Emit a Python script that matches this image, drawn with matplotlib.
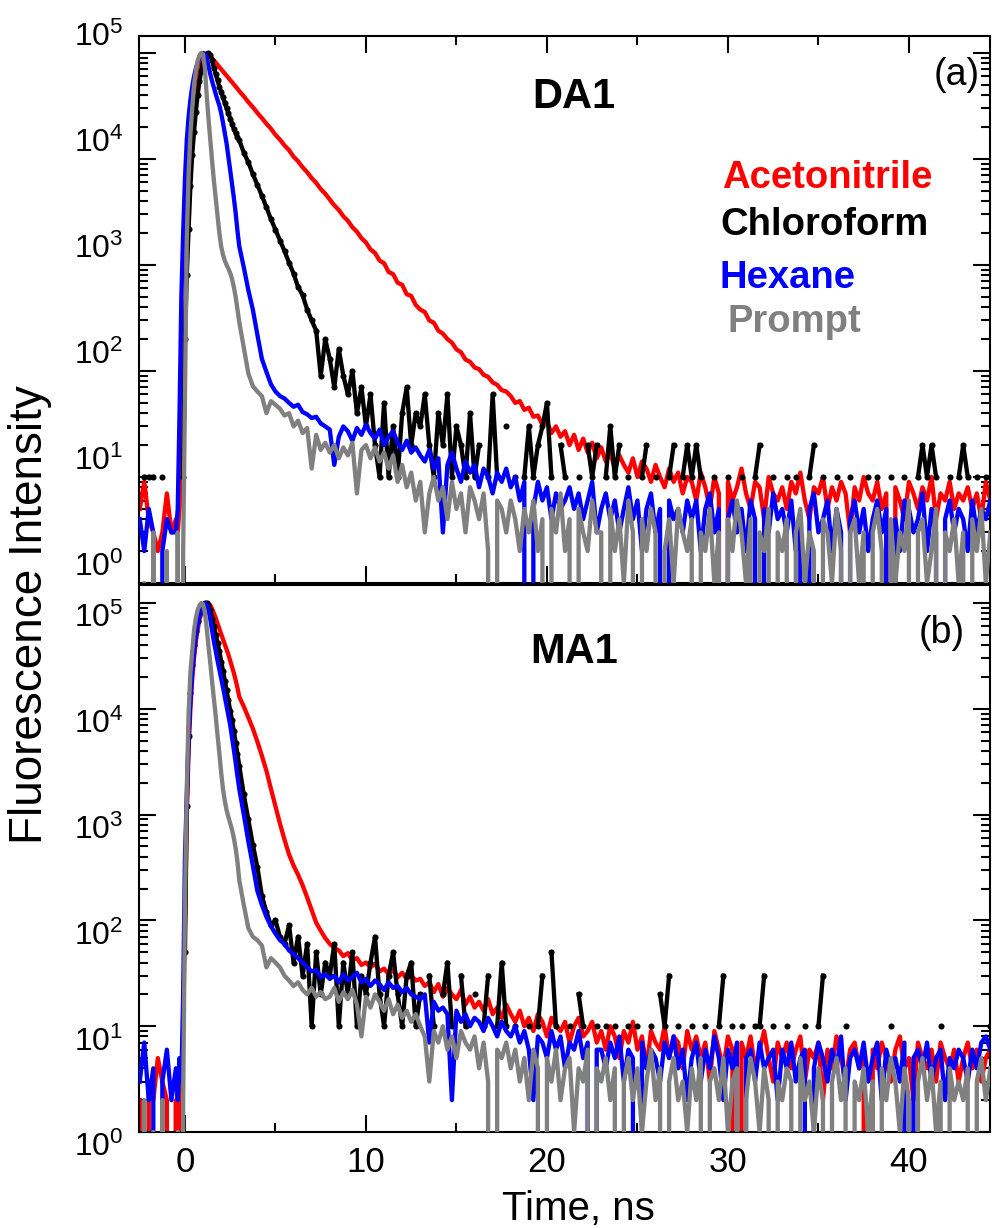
import numpy as np
import matplotlib
matplotlib.use('Agg')
import matplotlib.pyplot as plt
from matplotlib.ticker import (LogLocator, FuncFormatter, NullFormatter, MultipleLocator,
                               FixedLocator)

plt.rcParams['font.family'] = ['Liberation Sans', 'DejaVu Sans']
plt.rcParams['mathtext.fontset'] = 'custom'
plt.rcParams['mathtext.rm'] = 'Liberation Sans'

N = np.nan  # empty channel (not drawn on log axis)

# time channels (ns): coarse pre-rise, fine around the peak, coarse tail
time_ns = np.concatenate([np.linspace(-2.5, -0.75, 8),
                          np.linspace(-0.5, 2.9, 35),
                          np.linspace(3.0, 44.5, 167)])

series_names = ['Acetonitrile', 'Chloroform', 'Hexane', 'Prompt']
series_colors = ['#ff0000', '#000000', '#0000ff', '#808080']
decades = [1, 10, 100, 1000, 10000, 100000]

# ---------------- DA1 ----------------
da1_acetonitrile = [
    5, 9, 4, 3, 2, 3, 7, 3,
    4, 3, 5, 8, 40, 300, 1500, 4500, 10000, 18000, 28000, 40000, 53000, 66000, 78000,
    88000, 95000, 99500, 99000, 93500, 89000, 84800, 80900, 77200, 73600, 70200, 67000,
    63900, 61000, 58200, 55500, 52900, 50500, 48200, 46000,
    43600, 39000, 34400, 30800, 27200, 24300, 21500, 19300, 16900, 15200, 13400, 12100, 10500, 9500, 8350, 7500, 6600, 5950, 5200, 4700,
    4150, 3650, 3300, 2880, 2610, 2270, 2060, 1790, 1630, 1400, 1300, 1100, 1040, 860, 820, 680, 650, 530, 510, 420,
    380, 360, 300, 285, 240, 225, 200, 185, 160, 150, 128, 122, 108, 104, 92, 88, 78, 74, 66, 64,
    58, 50, 52, 43, 45, 37, 38, 31, 33, 26, 30, 24, 27, 20, 25, 18, 23, 17, 21, 15,
    19, 14, 17, 12, 16, 13, 11, 15, 10, 14, 12, 9, 13, 10, 8, 12, 9, 11, 7, 10,
    9, 6, 11, 8, 5, 10, 7, 0, 9, 6, 8, 12, 7, 5, 9, 8, 4, 10, 7, 6,
    8, 5, 9, 7, 11, 6, 4, 8, 7, 10, 5, 8, 6, 9, 7, 3, 8, 6, 10, 7,
    6, 9, 5, 7, 0, 8, 6, 4, 9, 7, 5, 8, 6, 10, 4, 7, 6, 9, 5, 7,
    6, 8, 5, 7, 4, 9, 6]

da1_chloroform = [
    N, 10, 10, 10, N, 10, N, N,
    N, N, N, N, 10, 200, 800, 2200, 5500, 11000, 18000, 28000, 40000, 54000, 68000,
    80000, 91000, 98000, 100000, 96000, 85000, 72000, 63000, 55000, 48000, 43000, 38000,
    34000, 30000, 27000, 24000, 21500, 19300, 17500, 16000,
    15000, 11500, 9300, 7200, 5700, 4500, 3500, 2700, 2150, 1700, 1350, 1050, 830, 620, 520, 380, 300, 240, 90, 200,
    130, 70, 160, 90, 60, 100, 40, 70, 30, 60, 20, 10, 50, 10, 30, 10, 40, 70, 20, 40,
    30, 60, 20, 10, 40, 20, 60, 10, 30, 20, 10, 40, 10, 20, N, 10, 60, 10, N, 30,
    N, 10, N, 10, 30, 10, 20, 30, 50, 10, N, 20, 10, N, N, 10, N, 20, 10, 20,
    N, 10, 30, 10, 20, N, 10, N, N, 10, 20, N, 10, N, N, 10, 20, N, 10, 20,
    10, 20, 10, N, N, 10, N, N, 10, N, N, 10, N, N, 10, 20, N, N, 10, N,
    N, 10, N, 10, N, N, 10, 20, N, 10, N, N, 10, N, N, 10, N, N, N, 10,
    N, 10, N, N, 10, N, N, 10, N, N, 10, 20, 10, 20, 10, N, N, 10, N, 10,
    20, 10, N, 10, N, 10, N]

da1_hexane = [
    4, 2, 5, 3, 0, 2, 4, 3,
    3, 5, 40, 500, 2000, 6500, 15000, 25000, 36000, 48000, 60000, 71000, 81000, 90000, 96000,
    100000, 98000, 90000, 75000, 63000, 54000, 47000, 41000, 36000, 32000, 27000, 22000,
    17500, 14000, 10500, 7800, 5800, 4300, 3100, 2100,
    1500, 950, 580, 380, 220, 130, 98, 75, 64, 58, 55, 50, 46, 48, 41, 39, 36, 37, 32, 30,
    28, 13, 24, 30, 27, 22, 29, 25, 31, 26, 23, 28, 20, 24, 27, 21, 18, 22, 17, 19,
    16, 14, 18, 12, 15, 3, 13, 17, 12, 9, 14, 11, 13, 8, 12, 10, 7, 11, 9, 12,
    8, 10, 6, 9, 0, 5, 9, 6, 8, 4, 7, 5, 6, 8, 5, 7, 4, 6, 9, 3,
    5, 7, 4, 6, 3, 5, 8, 4, 6, 2, 5, 7, 3, 5, 0, 6, 4, 5, 3, 6,
    4, 6, 2, 5, 7, 3, 5, 0, 4, 6, 3, 5, 2, 6, 4, 0, 5, 3, 7, 4,
    5, 3, 6, 2, 4, 0, 5, 7, 3, 4, 6, 2, 5, 3, 0, 4, 6, 3, 5, 2,
    4, 6, 3, 5, 0, 4, 2, 6, 5, 3, 4, 7, 2, 5, 3, 0, 4, 6, 3, 5,
    4, 2, 6, 3, 5, 4, 6]

da1_prompt = [
    0, 1, 0, 3, 0, 0, 2, 0,
    0, 3, 0, 0, 2, 60, 1700, 7000, 17000, 30000, 50000, 68000, 84000, 95000, 100000,
    97000, 72000, 40000, 24000, 15000, 9500, 6200, 4200, 2900, 2000, 1500, 1250,
    1100, 1000, 920, 840, 740, 620, 500, 380,
    290, 165, 95, 72, 64, 58, 40, 52, 48, 44, 38, 40, 30, 34, 26, 29, 12, 25, 18, 21,
    17, 20, 15, 19, 16, 21, 7, 18, 20, 15, 19, 14, 17, 12, 16, 9, 13, 8, 11, 6,
    9, 3, 7, 10, 6, 8, 4, 9, 5, 7, 3, 8, 6, 4, 7, 2, 0, 6, 5, 3,
    6, 4, 2, 5, 3, 6, 2, 4, 0, 5, 3, 7, 2, 4, 0, 5, 3, 2, 6, 3,
    3, 0, 5, 2, 4, 1, 6, 3, 0, 4, 2, 5, 3, 0, 2, 4, 1, 5, 3, 2,
    4, 0, 3, 2, 5, 1, 3, 0, 4, 2, 6, 3, 1, 4, 0, 3, 2, 5, 0, 3,
    2, 4, 0, 3, 5, 1, 3, 2, 0, 4, 3, 1, 5, 2, 0, 3, 4, 1, 3, 0,
    3, 5, 2, 0, 4, 1, 3, 2, 6, 0, 3, 4, 1, 2, 5, 0, 3, 2, 4, 1,
    3, 0, 4, 2, 5, 1, 3]

# ---------------- MA1 ----------------
ma1_acetonitrile = [
    2, 0, 3, 2, 5, 3, 2, 0,
    2, 0, 3, 2, 10, 100, 1000, 4000, 10000, 19000, 30000, 43000, 56000, 69000, 80000,
    89000, 96000, 99500, 99500, 95000, 88000, 80000, 72000, 64000, 57000, 51000, 45500,
    41000, 36500, 32500, 28500, 25000, 21800, 18700, 15800,
    13000, 10500, 8300, 6500, 4900, 3600, 2600, 1750, 1200, 820, 580, 420, 330, 270, 215, 165, 125, 95, 80, 68,
    60, 55, 52, 46, 49, 42, 44, 38, 40, 36, 39, 33, 35, 31, 34, 29, 32, 28, 30, 27,
    28, 24, 26, 21, 25, 19, 23, 20, 18, 22, 16, 19, 15, 17, 14, 18, 13, 15, 12, 16,
    13, 11, 14, 10, 12, 9, 13, 11, 8, 12, 10, 9, 11, 7, 10, 12, 8, 9, 11, 7,
    9, 6, 10, 8, 5, 9, 7, 11, 6, 8, 4, 9, 7, 6, 10, 5, 8, 7, 4, 9,
    6, 8, 5, 7, 3, 9, 6, 4, 8, 6, 0, 7, 5, 8, 4, 6, 9, 5, 3, 7,
    5, 7, 4, 6, 8, 3, 6, 5, 7, 2, 6, 4, 8, 5, 3, 6, 7, 4, 5, 0,
    6, 4, 7, 5, 3, 6, 8, 4, 5, 2, 7, 5, 4, 6, 3, 7, 5, 4, 6, 3,
    5, 7, 4, 6, 3, 5, 6]

ma1_chloroform = [
    N, N, N, N, N, N, N, N,
    N, N, N, N, N, 50, 1200, 5500, 14000, 26000, 40000, 54000, 67000, 79000, 89000,
    96000, 99500, 100000, 96000, 85000, 71000, 60000, 50000, 42000, 35000, 28000, 23000,
    18500, 15000, 12000, 9600, 7800, 6200, 4800, 3700,
    2900, 1550, 900, 520, 320, 170, 120, 90, 100, 70, 60, 90, 40, 70, 30, 60, 10, 50, 20, 40,
    30, 60, 10, 40, 20, 50, 10, 30, 20, 40, 70, 20, 10, 30, 50, 20, 10, 30, 40, 10,
    20, N, 30, 10, N, 20, 40, 10, N, 30, 10, N, 20, N, 10, 30, N, 10, 40, 10,
    N, 10, N, N, 10, N, 10, 30, N, 50, 10, N, N, 10, N, 20, 10, N, N, 10,
    N, 10, N, 10, N, N, 10, N, 10, N, N, 10, N, 20, 10, 30, N, 10, N, N,
    10, N, N, 10, N, N, 10, 30, N, 10, N, 10, N, N, 10, 10, 30, N, 10, N,
    N, 10, N, N, N, 10, N, N, 10, 30, N, N, N, N, 10, N, N, N, N, N,
    N, N, N, N, 10, N, N, N, N, N, N, N, N, N, N, 10, N, N, N, N,
    N, N, N, N, N, N, 10]

ma1_hexane = [
    3, 7, 2, 4, 0, 3, 6, 2,
    4, 2, 5, 3, 20, 400, 1500, 5500, 12000, 22000, 34000, 48000, 62000, 75000, 86000,
    94000, 99500, 97000, 86000, 70000, 55000, 43000, 35000, 28500, 23500, 19500, 16000,
    13000, 10500, 8600, 7000, 5400, 4100, 3100, 2300,
    1750, 1000, 560, 330, 190, 140, 108, 88, 75, 65, 60, 52, 48, 44, 40, 36, 33, 34, 29, 31,
    28, 30, 26, 31, 27, 29, 32, 26, 28, 24, 27, 25, 22, 26, 23, 24, 21, 23, 20, 19,
    18, 20, 7, 17, 14, 15, 13, 2, 14, 11, 13, 10, 12, 11, 9, 12, 10, 8, 11, 9,
    8, 10, 7, 9, 6, 2, 8, 7, 5, 9, 6, 8, 4, 7, 6, 9, 5, 7, 0, 6,
    6, 4, 7, 5, 8, 3, 6, 5, 0, 7, 4, 6, 5, 3, 7, 5, 8, 4, 6, 2,
    5, 7, 3, 6, 4, 8, 5, 2, 6, 4, 7, 0, 5, 6, 3, 7, 4, 5, 6, 2,
    6, 4, 7, 3, 5, 6, 0, 4, 7, 5, 3, 6, 4, 8, 2, 5, 6, 4, 7, 3,
    5, 7, 2, 6, 4, 5, 3, 7, 0, 5, 6, 4, 7, 3, 5, 6, 2, 5, 4, 6,
    5, 3, 6, 4, 7, 8, 6]

ma1_prompt = [
    0, 2, 0, 1, 0, 2, 0, 0,
    0, 1, 0, 0, 2, 150, 1700, 9000, 22000, 35000, 55000, 72000, 86000, 95000, 100000,
    97000, 82000, 58000, 39000, 27000, 18000, 12500, 8500, 5600, 3800, 2500, 1750,
    1350, 1100, 950, 830, 720, 600, 480, 360,
    240, 140, 85, 70, 65, 58, 36, 44, 40, 36, 30, 27, 24, 26, 22, 20, 23, 19, 21, 18,
    19, 23, 17, 21, 18, 22, 16, 8, 19, 15, 20, 17, 14, 18, 13, 16, 12, 14, 11, 13,
    10, 8, 3, 9, 7, 10, 6, 8, 5, 9, 7, 6, 8, 4, 7, 3, 0, 6, 5, 7,
    4, 6, 3, 5, 2, 6, 4, 0, 5, 3, 6, 2, 4, 5, 1, 4, 3, 6, 0, 4,
    3, 5, 2, 4, 0, 3, 5, 2, 4, 1, 3, 6, 2, 4, 0, 3, 5, 2, 3, 1,
    4, 2, 5, 0, 3, 4, 2, 5, 1, 3, 4, 0, 2, 5, 3, 1, 4, 2, 0, 3,
    2, 4, 3, 0, 5, 2, 3, 1, 4, 2, 0, 3, 5, 2, 4, 0, 3, 2, 4, 1,
    3, 0, 4, 2, 5, 3, 1, 4, 2, 0, 3, 5, 2, 4, 1, 3, 0, 4, 2, 3,
    2, 4, 0, 3, 5, 2, 4]

panels = [
    ('DA1', '(a)', [da1_acetonitrile, da1_chloroform, da1_hexane, da1_prompt]),
    ('MA1', '(b)', [ma1_acetonitrile, ma1_chloroform, ma1_hexane, ma1_prompt]),
]
for _, _, group in panels:
    for arr in group:
        if len(arr) != len(time_ns):
            raise ValueError('length mismatch %d vs %d' % (len(arr), len(time_ns)))

W, H = 992, 1228
fig = plt.figure(figsize=(W / 100, H / 100), dpi=100)
L, R = 139, 990
ax_top = fig.add_axes([L / W, 1 - 583 / H, (R - L) / W, (583 - 36) / H])
ax_bot = fig.add_axes([L / W, 1 - 1132 / H, (R - L) / W, (1132 - 585) / H])

log_fmt = FuncFormatter(lambda v, p: r'$\mathregular{10^{%d}}$' % int(round(np.log10(v))))

LW = 3.1
for ax, (name, tag, group), ytop in [(ax_top, panels[0], 1.445e5), (ax_bot, panels[1], 1.48e5)]:
    ax.set_yscale('log', nonpositive='clip')
    for k, (arr, col) in enumerate(zip(group, series_colors)):
        vals = np.array(arr, dtype=float)
        if series_names[k] == 'Chloroform':
            ax.plot(time_ns, vals, color=col, lw=LW, marker='o', ms=4.4, mew=0,
                    zorder=2 + k, solid_joinstyle='round')
        else:
            ax.plot(time_ns, vals, color=col, lw=LW, zorder=2 + k, solid_joinstyle='round')
    ax.set_xlim(-2.54, 44.48)
    ax.set_ylim(1, ytop)
    ax.xaxis.set_major_locator(MultipleLocator(10))
    ax.xaxis.set_minor_locator(MultipleLocator(5))
    ax.yaxis.set_major_locator(FixedLocator(decades))
    ax.yaxis.set_minor_locator(LogLocator(base=10, subs=np.arange(2, 10), numticks=20))
    ax.yaxis.set_major_formatter(log_fmt)
    ax.yaxis.set_minor_formatter(NullFormatter())
    ax.tick_params(axis='both', which='major', direction='in', length=12, width=1.5)
    ax.tick_params(axis='both', which='minor', direction='in', length=6.5, width=1.5)
    ax.tick_params(axis='y', which='both', left=True, right=True, labelsize=23, pad=11)
    ax.tick_params(axis='x', which='both', labelsize=25, pad=10)
    for sp in ax.spines.values():
        sp.set_linewidth(1.5)

ax_top.tick_params(axis='x', which='both', top=True, bottom=True, labelbottom=False)
ax_bot.tick_params(axis='x', which='both', top=False, bottom=True, labelbottom=True)

# y tick labels sit slightly above the ticks in (a) and slightly below in (b)
for tick in ax_top.yaxis.get_major_ticks():
    tick.label1.set_va('bottom')
for tick in ax_bot.yaxis.get_major_ticks():
    tick.label1.set_va('top')

# in-plot labels
fig.text(532 / W, 1 - 108 / H, 'DA1', fontsize=30, fontweight='bold', ha='left', va='baseline')
fig.text(530 / W, 1 - 663 / H, 'MA1', fontsize=30, fontweight='bold', ha='left', va='baseline')
fig.text(980 / W, 1 - 85 / H, '(a)', fontsize=27, ha='right', va='baseline')
fig.text(965 / W, 1 - 643 / H, '(b)', fontsize=27, ha='right', va='baseline')

legend_pos = [(722, 188), (720, 235), (720, 288), (727, 332)]
for name, col, (px, py) in zip(series_names, series_colors, legend_pos):
    fig.text(px / W, 1 - py / H, name, color=col, fontsize=27.5, fontweight='bold',
             ha='left', va='baseline')

fig.text(30 / W, 1 - 615 / H, 'Fluorescence Intensity', fontsize=33, rotation=90,
         ha='center', va='center')
fig.text(578 / W, 1 - 1220 / H, 'Time, ns', fontsize=29, ha='center', va='baseline')

fig.savefig('out.png', dpi=100)
